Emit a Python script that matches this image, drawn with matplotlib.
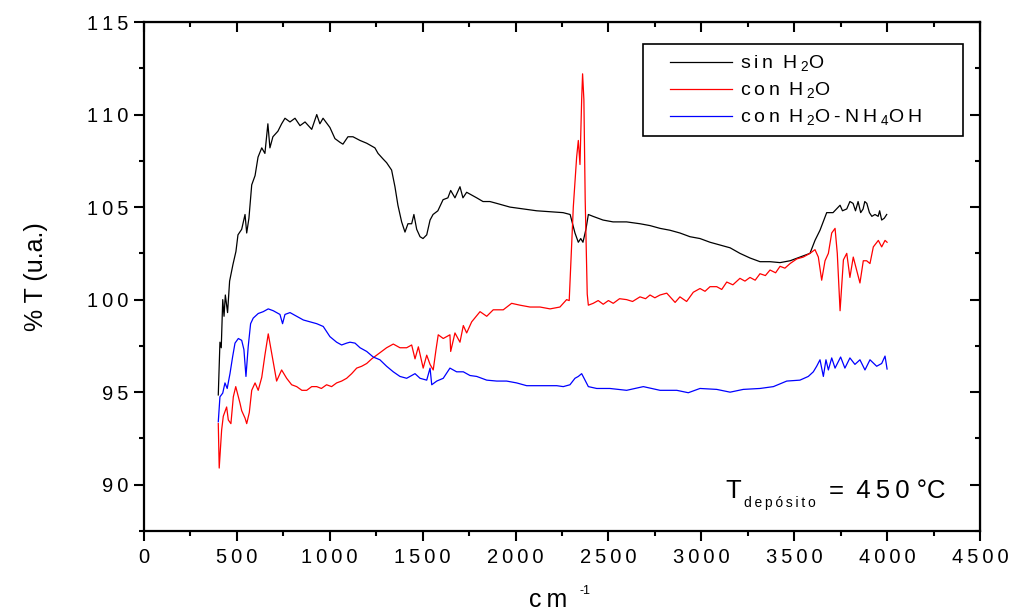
import matplotlib.pyplot as plt
from matplotlib.ticker import MultipleLocator, FuncFormatter
from matplotlib.patches import Rectangle

plt.rcParams['font.family'] = ['Liberation Sans', 'DejaVu Sans']

# sin H2O (black)
x_sin = [400, 409, 416, 424, 431, 438, 450, 461, 479, 495, 506, 526, 544, 553, 565, 580,
         598, 614, 634, 651, 667, 678, 694, 721, 741, 759, 786, 813, 840, 867, 903, 930,
         947, 964, 1001, 1028, 1055, 1071, 1098, 1125, 1163, 1199, 1243, 1260, 1287, 1306,
         1333, 1351, 1367, 1387, 1405, 1421, 1441, 1453, 1468, 1486, 1502, 1522, 1540, 1556,
         1582, 1610, 1636, 1651, 1674, 1701, 1717, 1737, 1791, 1825, 1862, 1899, 1970, 2040,
         2114, 2186, 2256, 2294, 2320, 2338, 2351, 2363, 2379, 2392, 2417, 2471, 2525, 2598,
         2670, 2724, 2778, 2831, 2885, 2939, 2993, 3047, 3101, 3155, 3208, 3262, 3316, 3370,
         3424, 3478, 3531, 3585, 3612, 3639, 3675, 3709, 3747, 3760, 3783, 3800, 3817, 3830,
         3844, 3858, 3871, 3880, 3891, 3905, 3918, 3935, 3952, 3960, 3971, 3985, 3998]
t_sin = [94.85, 97.7, 97.4, 100.0, 99.1, 100.25, 99.3, 101.0, 101.9, 102.6, 103.5, 103.8,
         104.6, 103.6, 104.4, 106.2, 106.7, 107.7, 108.2, 107.9, 109.5, 108.2, 108.8, 109.1,
         109.5, 109.8, 109.6, 109.8, 109.4, 109.6, 109.2, 110.0, 109.5, 109.8, 109.3, 108.7,
         108.5, 108.4, 108.8, 108.8, 108.6, 108.45, 108.2, 107.9, 107.6, 107.4, 107.0, 106.1,
         105.1, 104.2, 103.65, 104.1, 104.1, 104.6, 103.8, 103.4, 103.3, 103.5, 104.3, 104.6,
         104.8, 105.4, 105.5, 105.9, 105.5, 106.1, 105.5, 105.8, 105.5, 105.3, 105.3, 105.2,
         105.0, 104.9, 104.8, 104.75, 104.7, 104.6, 103.6, 103.1, 103.3, 103.1, 103.8, 104.6,
         104.5, 104.3, 104.2, 104.2, 104.1, 104.0, 103.85, 103.75, 103.6, 103.4, 103.3, 103.1,
         102.95, 102.8, 102.5, 102.25, 102.05, 102.05, 102.0, 102.1, 102.3, 102.5, 103.2,
         103.75, 104.7, 104.7, 105.1, 104.8, 104.9, 105.3, 105.2, 104.8, 105.3, 104.7, 104.9,
         105.3, 105.2, 104.7, 104.5, 104.6, 104.5, 104.8, 104.3, 104.4, 104.6]

# con H2O (red)
x_con = [400, 405, 418, 427, 445, 454, 468, 481, 494, 508, 517, 526, 544, 553, 567, 580,
         598, 615, 634, 651, 669, 684, 696, 714, 741, 768, 795, 822, 850, 876, 903, 930,
         955, 983, 1010, 1037, 1064, 1091, 1118, 1145, 1172, 1199, 1226, 1253, 1280, 1306,
         1342, 1378, 1414, 1441, 1459, 1477, 1503, 1522, 1540, 1557, 1572, 1584, 1611, 1647,
         1651, 1674, 1701, 1719, 1737, 1764, 1809, 1845, 1880, 1934, 1979, 2024, 2078, 2132,
         2186, 2239, 2275, 2289, 2311, 2329, 2338, 2347, 2356, 2361, 2368, 2375, 2386, 2392,
         2418, 2445, 2472, 2500, 2526, 2560, 2598, 2630, 2670, 2700, 2724, 2750, 2778, 2814,
         2859, 2885, 2921, 2957, 2993, 3020, 3047, 3083, 3110, 3137, 3170, 3208, 3235, 3262,
         3290, 3316, 3345, 3370, 3400, 3424, 3450, 3478, 3514, 3549, 3585, 3612, 3630, 3648,
         3666, 3684, 3702, 3720, 3732, 3747, 3765, 3783, 3800, 3818, 3836, 3854, 3872, 3890,
         3908, 3926, 3953, 3971, 3989, 4000]
t_con = [93.3, 90.9, 92.95, 93.7, 94.2, 93.5, 93.3, 94.75, 95.3, 94.75, 94.4, 94.0, 93.6,
         93.3, 93.9, 95.1, 95.5, 95.1, 95.8, 97.0, 98.15, 97.3, 96.6, 95.6, 96.2, 95.75, 95.4,
         95.3, 95.1, 95.1, 95.3, 95.3, 95.2, 95.4, 95.3, 95.5, 95.6, 95.75, 96.0, 96.3, 96.4,
         96.55, 96.8, 97.0, 97.2, 97.4, 97.6, 97.4, 97.4, 97.55, 96.8, 97.45, 96.3, 97.0, 96.5,
         96.2, 97.3, 98.1, 97.9, 98.1, 97.2, 98.2, 97.7, 98.6, 98.2, 98.8, 99.35, 99.1, 99.45,
         99.45, 99.8, 99.7, 99.6, 99.6, 99.5, 99.6, 100.0, 99.95, 105.0, 107.7, 108.6, 107.3,
         110.8, 112.2, 110.8, 105.4, 100.3, 99.7, 99.8, 99.95, 99.75, 99.95, 99.8, 100.05,
         100.0, 99.9, 100.15, 100.05, 100.25, 100.1, 100.25, 100.35, 99.85, 100.15, 99.9,
         100.4, 100.6, 100.45, 100.7, 100.7, 100.55, 100.95, 100.8, 101.15, 101.0, 101.2,
         101.05, 101.4, 101.3, 101.6, 101.45, 101.8, 101.7, 101.95, 102.2, 102.3, 102.5, 102.7,
         102.3, 101.05, 102.1, 102.5, 103.6, 103.85, 102.5, 99.4, 102.15, 102.5, 101.2, 102.3,
         101.6, 100.9, 102.1, 102.1, 101.95, 102.85, 103.2, 102.85, 103.2, 103.1]

# con H2O-NH4OH (blue)
x_nh = [400, 409, 424, 436, 448, 463, 477, 490, 508, 526, 538, 549, 561, 574, 588, 615,
        642, 669, 696, 732, 746, 759, 786, 822, 858, 894, 930, 965, 1001, 1037, 1064, 1091,
        1109, 1136, 1163, 1199, 1234, 1270, 1306, 1342, 1378, 1414, 1459, 1486, 1522, 1540,
        1549, 1576, 1611, 1647, 1683, 1719, 1755, 1791, 1845, 1899, 1952, 2006, 2060, 2114,
        2168, 2222, 2257, 2293, 2320, 2338, 2356, 2369, 2392, 2437, 2508, 2598, 2688, 2778,
        2868, 2930, 2993, 3083, 3155, 3226, 3316, 3388, 3460, 3531, 3576, 3603, 3621, 3639,
        3657, 3671, 3684, 3702, 3720, 3750, 3773, 3800, 3827, 3854, 3881, 3908, 3944, 3971,
        3989, 4000]
t_nh = [93.4, 94.75, 94.95, 95.5, 95.2, 96.0, 96.9, 97.65, 97.9, 97.8, 97.3, 95.85, 97.45,
        98.7, 99.0, 99.25, 99.35, 99.5, 99.4, 99.2, 98.7, 99.2, 99.3, 99.1, 98.9, 98.8, 98.7,
        98.55, 98.0, 97.7, 97.55, 97.65, 97.7, 97.65, 97.4, 97.2, 96.9, 96.75, 96.4, 96.1,
        95.85, 95.75, 96.0, 95.75, 95.65, 96.3, 95.4, 95.6, 95.75, 96.3, 96.1, 96.1, 95.9,
        95.85, 95.65, 95.6, 95.6, 95.5, 95.35, 95.35, 95.35, 95.35, 95.3, 95.4, 95.75, 95.85,
        96.0, 95.75, 95.3, 95.2, 95.2, 95.1, 95.3, 95.1, 95.1, 94.97, 95.2, 95.15, 95.0,
        95.15, 95.2, 95.3, 95.6, 95.65, 95.85, 96.1, 96.4, 96.75, 95.85, 96.75, 96.2, 96.85,
        96.3, 96.9, 96.3, 96.85, 96.5, 96.75, 96.2, 96.75, 96.4, 96.55, 96.95, 96.25]

labels = ['s\u2009i\u2009n\u2009 H\u2009$_{\\mathregular{2}}$O',
          'c\u2009o\u2009n\u2009 H\u2009$_{\\mathregular{2}}$O',
          'c\u2009o\u2009n\u2009 H\u2009$_{\\mathregular{2}}$O\u2009-\u2009N\u2009H\u2009$_{\\mathregular{4}}$O\u2009H']

fig = plt.figure(figsize=(10.11, 6.13), dpi=100)
ax = fig.add_axes([0.1424, 0.1338, 0.8269, 0.8303])

ax.plot(x_sin, t_sin, color='black', lw=0.9, label=labels[0])
ax.plot(x_con, t_con, color='red', lw=0.9, label=labels[1])
ax.plot(x_nh, t_nh, color='blue', lw=0.9, label=labels[2])

ax.set_xlim(0, 4500)
ax.set_ylim(87.5, 115)
ax.xaxis.set_major_locator(MultipleLocator(500))
ax.xaxis.set_minor_locator(MultipleLocator(250))
ax.yaxis.set_major_locator(MultipleLocator(5))
ax.yaxis.set_minor_locator(MultipleLocator(2.5))
spaced = FuncFormatter(lambda v, p: '\u2009'.join(str(int(round(v)))))
ax.xaxis.set_major_formatter(spaced)
ax.yaxis.set_major_formatter(spaced)

for s in ax.spines.values():
    s.set_linewidth(1.6)
ax.tick_params(which='both', width=1.5, labelsize=14.5)
ax.tick_params(which='major', length=7)
ax.tick_params(which='minor', length=3.6)
ax.tick_params(axis='x', which='both', direction='out', pad=5)
ax.tick_params(axis='y', which='both', direction='out', pad=4)

# inward ticks on top and right
top = ax.secondary_xaxis('top')
top.set_xticks(range(0, 4501, 500))
top.xaxis.set_minor_locator(MultipleLocator(250))
top.tick_params(which='both', direction='in', width=1.5, labeltop=False)
top.tick_params(which='major', length=7)
top.tick_params(which='minor', length=3.6)
right = ax.secondary_yaxis('right')
right.set_yticks([90, 95, 100, 105, 110, 115])
right.yaxis.set_minor_locator(MultipleLocator(2.5))
right.tick_params(which='both', direction='in', width=1.5, labelright=False)
right.tick_params(which='major', length=7)
right.tick_params(which='minor', length=3.6)

leg = ax.legend(loc='upper left', bbox_to_anchor=(0.629, 0.938), frameon=False,
                fontsize=14, handlelength=3.2, handletextpad=0.4, labelspacing=0.36,
                borderpad=0, borderaxespad=0)
ax.add_patch(Rectangle((0.597, 0.776), 0.383, 0.181, transform=ax.transAxes,
                       fill=False, edgecolor='black', lw=1.2, zorder=5))

ax.set_ylabel('% T (u.a.)', fontsize=18, labelpad=28)

# x label with superscript
fig.text(548 / 1011, 1 - 612 / 613, 'c\u2009m', fontsize=18, ha='center', va='bottom')
fig.text(580 / 1011, 1 - 594 / 613, '-1', fontsize=9, ha='left', va='baseline')

# deposition temperature
fig.text(725 / 1011, 1 - 498 / 613, 'T', fontsize=18.5, ha='left', va='baseline')
fig.text(744 / 1011, 1 - 507 / 613, 'd\u2009e\u2009p\u2009ó\u2009s\u2009i\u2009t\u2009o',
         fontsize=10, ha='left', va='baseline')
fig.text(829 / 1011, 1 - 498 / 613, '=\u2009 4\u20095\u20090 °C',
         fontsize=18.5, ha='left', va='baseline')

fig.savefig('out.png', dpi=100)
